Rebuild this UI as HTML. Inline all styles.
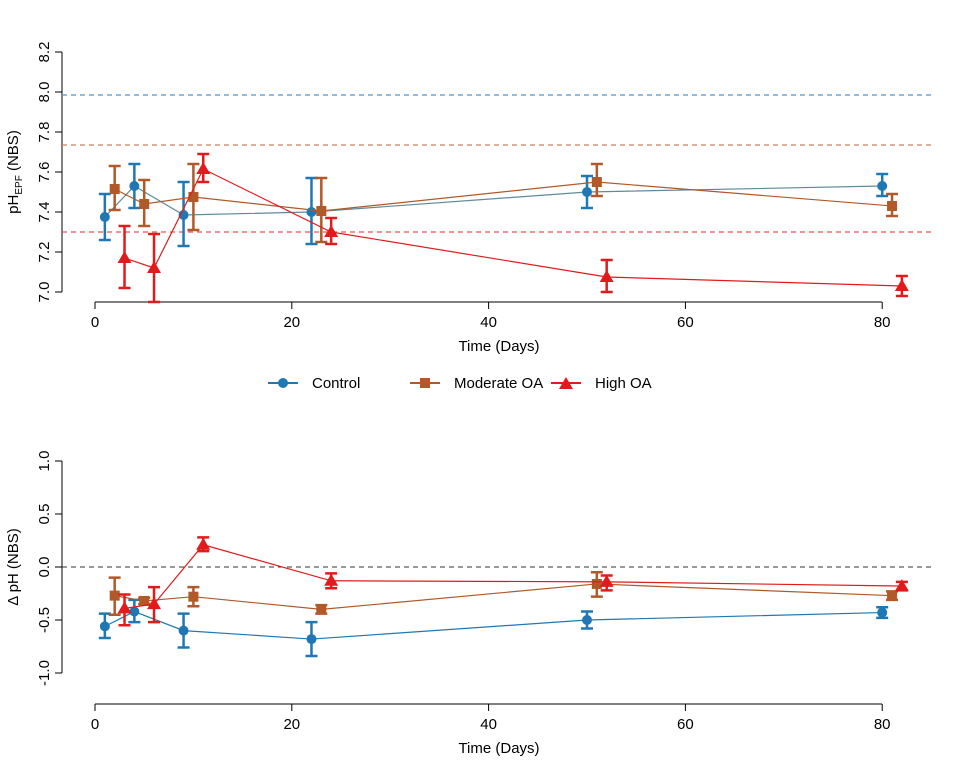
<!DOCTYPE html>
<html><head><meta charset="utf-8"><style>
body{margin:0;background:#fff}
svg text{font-family:"Liberation Sans",sans-serif;fill:#000}
</style></head><body>
<svg id="c" width="960" height="768" xmlns="http://www.w3.org/2000/svg"></svg>
<script>
const ctrlDaysTop=[1,4,9,22,50,80];
const ctrlTop=[7.375,7.53,7.385,7.40,7.50,7.53];
const ctrlTopLo=[7.26,7.42,7.23,7.24,7.42,7.48];
const ctrlTopHi=[7.49,7.64,7.55,7.57,7.58,7.59];
const modDaysTop=[2,5,10,23,51,81];
const modTop=[7.515,7.44,7.475,7.405,7.55,7.43];
const modTopLo=[7.41,7.33,7.31,7.25,7.48,7.38];
const modTopHi=[7.63,7.56,7.64,7.57,7.64,7.49];
const highDaysTop=[3,6,11,24,52,82];
const highTop=[7.17,7.12,7.615,7.30,7.075,7.03];
const highTopLo=[7.02,6.95,7.55,7.24,7.0,6.98];
const highTopHi=[7.33,7.29,7.69,7.37,7.16,7.08];
const refLines=[7.985,7.735,7.30];
const ctrlBot=[-0.56,-0.42,-0.60,-0.68,-0.50,-0.43];
const ctrlBotLo=[-0.67,-0.52,-0.76,-0.84,-0.58,-0.48];
const ctrlBotHi=[-0.44,-0.31,-0.44,-0.52,-0.42,-0.38];
const modBot=[-0.27,-0.32,-0.28,-0.40,-0.16,-0.27];
const modBotLo=[-0.45,-0.35,-0.37,-0.44,-0.28,-0.31];
const modBotHi=[-0.10,-0.29,-0.19,-0.36,-0.05,-0.23];
const highBot=[-0.39,-0.35,0.21,-0.13,-0.14,-0.18];
const highBotLo=[-0.55,-0.52,0.15,-0.20,-0.22,-0.22];
const highBotHi=[-0.26,-0.19,0.28,-0.06,-0.08,-0.14];
const xTicks=[0,20,40,60,80];
const yTicksTop=[7.0,7.2,7.4,7.6,7.8,8.0,8.2];
const yTicksBot=[-1.0,-0.5,0.0,0.5,1.0];

const svg=document.getElementById('c');
const NS='http://www.w3.org/2000/svg';
function el(t,a,p){const e=document.createElementNS(NS,t);for(const k in a)e.setAttribute(k,a[k]);(p||svg).appendChild(e);return e;}
const xs=d=>95+d*9.84;
const yT=v=>292-(v-7.0)*200;
const yB=v=>567-v*106;
const BLUE='#1f78b4',BROWN='#b15928',RED='#e31a1c';

function axes(name,yFn,yTicks,fmt,axisY){
  const g=el('g',{});
  
  
  el('line',{x1:95,x2:882,y1:axisY,y2:axisY,stroke:'#000'},g);
  xTicks.forEach(t=>{el('line',{x1:xs(t),x2:xs(t),y1:axisY,y2:axisY+7,stroke:'#000'},g);
    const tx=el('text',{x:xs(t),y:axisY+25,'text-anchor':'middle','font-size':15},g);tx.textContent=t;});
  const y0=yFn(yTicks[0]),y1=yFn(yTicks[yTicks.length-1]);
  el('line',{x1:62,x2:62,y1:y0,y2:y1,stroke:'#000'},g);
  yTicks.forEach(t=>{const y=yFn(t);el('line',{x1:55,x2:62,y1:y,y2:y,stroke:'#000'},g);
    const tx=el('text',{x:44,y:y,'text-anchor':'middle','font-size':15,transform:`rotate(-90 44 ${y})`,dy:5},g);tx.textContent=fmt(t);});
  const xl=el('text',{x:499,y:axisY+49,'text-anchor':'middle','font-size':15},g);xl.textContent='Time (Days)';
  
  
  return g;
}
function series(name,days,vals,lo,hi,yFn,col,lineCol,shape){
  const g=el('g',{});
  
  
  el('polyline',{points:days.map((d,i)=>xs(d)+','+yFn(vals[i])).join(' '),fill:'none',stroke:lineCol,'stroke-width':1.2},g);
  days.forEach((d,i)=>{
    const x=xs(d),a=yFn(hi[i]),b=yFn(lo[i]);
    const e=el('path',{d:`M${x},${a}V${b}M${x-6},${a}H${x+6}M${x-6},${b}H${x+6}`,stroke:col,'stroke-width':2.5,fill:'none'},g);
    
    
    marker(g,x,yFn(vals[i]),col,shape,name+'-point');
  });
}
function marker(g,x,y,col,shape,nm){
  let m;
  if(shape==='c')m=el('circle',{cx:x,cy:y,r:5,fill:col},g);
  else if(shape==='s')m=el('rect',{x:x-5,y:y-5,width:10,height:10,fill:col},g);
  else m=el('polygon',{points:`${x},${y-7} ${x-7},${y+5} ${x+7},${y+5}`,fill:col},g);
  
  
}

axes('top',yT,yTicksTop,t=>t.toFixed(1),302);
const refCols=['#4f94cd','#c8825f','#ef5350'];
refLines.forEach((v,i)=>{const l=el('line',{x1:62,x2:932,y1:yT(v),y2:yT(v),stroke:refCols[i],'stroke-dasharray':'5,4','stroke-width':1.2});
  
  });
series('control-top',ctrlDaysTop,ctrlTop,ctrlTopLo,ctrlTopHi,yT,BLUE,'#5f8a9a','c');
series('moderate-top',modDaysTop,modTop,modTopLo,modTopHi,yT,BROWN,BROWN,'s');
series('high-top',highDaysTop,highTop,highTopLo,highTopHi,yT,RED,RED,'t');
const yl=el('text',{x:18,y:172,'text-anchor':'middle','font-size':15,transform:'rotate(-90 18 172)'});
yl.innerHTML='pH<tspan font-size="10" dy="4">EPF</tspan><tspan dy="-4">  (NBS)</tspan>';



axes('bottom',yB,yTicksBot,t=>t.toFixed(1),704);
const z=el('line',{x1:62,x2:932,y1:yB(0),y2:yB(0),stroke:'#333','stroke-dasharray':'5,4'});


series('control-bottom',ctrlDaysTop,ctrlBot,ctrlBotLo,ctrlBotHi,yB,BLUE,BLUE,'c');
series('moderate-bottom',modDaysTop,modBot,modBotLo,modBotHi,yB,BROWN,BROWN,'s');
series('high-bottom',highDaysTop,highBot,highBotLo,highBotHi,yB,RED,RED,'t');
const yl2=el('text',{x:18,y:567,'text-anchor':'middle','font-size':15,transform:'rotate(-90 18 567)'});
yl2.textContent='Δ pH (NBS)';



const leg=[['Control',BLUE,'c',268],['Moderate OA',BROWN,'s',410],['High OA',RED,'t',551]];
leg.forEach(([t,c,s,x])=>{
  const g=el('g',{});
  
  
  el('line',{x1:x,x2:x+30,y1:383,y2:383,stroke:c,'stroke-width':2},g);
  marker(g,x+15,s==='t'?384:383,c,s,'legend-marker');
  const tx=el('text',{x:x+44,y:388,'font-size':15},g);tx.textContent=t;
});
</script>
</body></html>
